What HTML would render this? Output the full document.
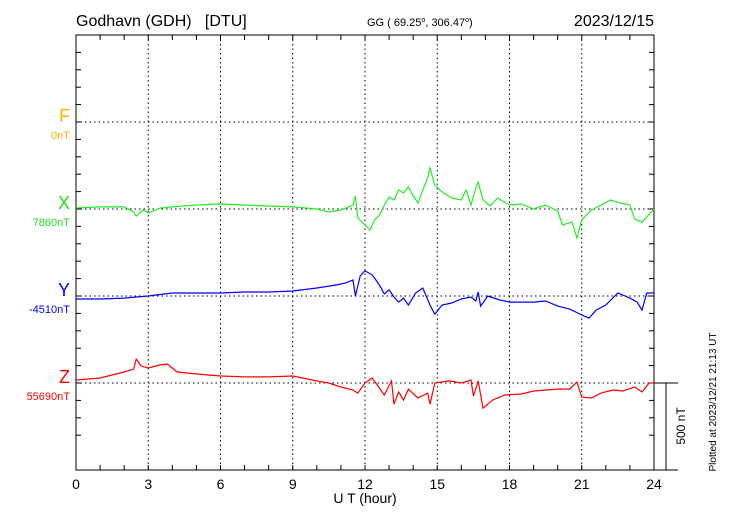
<!DOCTYPE html>
<html><head><meta charset="utf-8"><style>
body{margin:0;background:#fff;}
svg{display:block;font-family:"Liberation Sans",sans-serif;}
</style></head><body>
<svg id="chart" width="730" height="520" viewBox="0 0 730 520" xmlns="http://www.w3.org/2000/svg">
<text x="76" y="26" font-size="16" style="white-space:pre">Godhavn (GDH)   [DTU]</text>
<text x="367" y="26" font-size="11">GG ( 69.25<tspan dy="-4" font-size="7">o</tspan><tspan dy="4">, 306.47</tspan><tspan dy="-4" font-size="7">o</tspan><tspan dy="4">)</tspan></text>
<text x="654" y="26" font-size="16" text-anchor="end">2023/12/15</text>
<rect x="76" y="35" width="578" height="435" fill="none" stroke="#000" stroke-width="1"/>
<g id="grid"></g>
<g id="ticks"></g>
<g id="series"></g>
<text x="70" y="122" font-size="18" fill="#ffb000" text-anchor="end">F</text>
<text x="70" y="139" font-size="11" fill="#ffb000" text-anchor="end">0nT</text>
<text x="70" y="209" font-size="18" fill="#22dd22" text-anchor="end">X</text>
<text x="70" y="226" font-size="11" fill="#22dd22" text-anchor="end">7860nT</text>
<text x="70" y="296" font-size="18" fill="#0000ff" text-anchor="end">Y</text>
<text x="70" y="313" font-size="11" fill="#0000ff" text-anchor="end">-4510nT</text>
<text x="70" y="383" font-size="18" fill="#ff0000" text-anchor="end">Z</text>
<text x="70" y="400" font-size="11" fill="#ff0000" text-anchor="end">55690nT</text>
<text x="365" y="503" font-size="14" text-anchor="middle">U T (hour)</text>
<line x1="666" y1="383" x2="666" y2="470" stroke="#000"/>
<line x1="654" y1="383" x2="678" y2="383" stroke="#000"/>
<line x1="654" y1="470" x2="678" y2="470" stroke="#000"/>
<text transform="translate(685,426) rotate(-90)" font-size="12" text-anchor="middle">500 nT</text>
<text transform="translate(716,402) rotate(-90)" font-size="10" text-anchor="middle">Plotted at 2023/12/21 21:13 UT</text>
</svg>
<script>
const xTicks=[0,3,6,9,12,15,18,21,24];
const xT=[0,1,2,2.4,2.5,2.8,3,3.5,4,5,6,7,8,9,10,10.5,11,11.5,11.6,11.7,12,12.2,12.4,12.6,12.8,13,13.2,13.4,13.6,13.8,14,14.2,14.4,14.6,14.7,14.9,15.2,15.6,16,16.2,16.4,16.6,16.7,16.9,17.2,17.5,18,18.5,19,19.5,20,20.2,20.6,20.8,21,21.4,21.8,22.2,22.6,23,23.2,23.5,24];
const xV=[6,12,12,-17,-40,-6,-23,6,12,23,29,23,17,12,0,-17,-6,23,75,-52,-92,-121,-63,-35,23,69,52,109,92,127,75,35,109,178,236,138,98,63,52,109,23,121,155,52,17,63,23,29,0,23,-12,-92,-75,-167,-63,-6,23,52,35,23,-58,-75,0];
const yT=[0,1,2,2.5,3,4,5,6,7,8,9,10,10.8,11.2,11.5,11.6,11.8,12,12.3,12.6,12.8,13,13.2,13.4,13.6,13.8,14.1,14.4,14.7,14.9,15.2,15.6,16,16.4,16.6,16.7,16.8,17.1,17.6,18,19,19.5,20,20.5,21,21.3,21.6,22,22.5,23,23.3,23.5,23.7,24];
const yV=[-17,-17,-12,-6,0,17,17,17,23,23,29,46,63,75,92,0,115,144,121,63,12,35,-6,-35,-12,-52,17,46,-52,-104,-52,-40,-17,-6,-29,23,-58,0,-23,-35,-35,-29,-58,-75,-109,-127,-81,-52,17,-12,-35,-81,17,17];
const zT=[0,1,2,2.4,2.5,2.7,3,3.5,3.8,4.2,5,6,7,8,9,10,10.5,11,11.5,11.7,12,12.3,12.6,12.8,13.1,13.2,13.4,13.6,13.8,14.2,14.6,14.7,14.9,15.5,16,16.4,16.5,16.7,16.9,17.3,17.8,18.5,19,20,20.5,20.8,21,21.4,21.8,22.3,22.7,23.2,23.5,23.8,24];
const zV=[17,29,63,81,138,98,86,104,109,63,52,40,35,35,40,12,0,-23,-40,-58,0,29,-29,-69,12,-121,-52,-98,-35,-86,-58,-121,0,12,0,17,-75,12,-144,-98,-69,-63,-46,-35,-35,6,-81,-86,-58,-40,-46,-23,-52,0,0];
const NS="http://www.w3.org/2000/svg";
const X0=76,X1=654,PX_PER_NT=87/500;
function sx(h){return X0+h*(X1-X0)/24;}
function sy(base,v){return base-v*PX_PER_NT;}
function mk(tag,attrs,parent){const e=document.createElementNS(NS,tag);for(const k in attrs)e.setAttribute(k,attrs[k]);parent.appendChild(e);return e;}
const grid=document.getElementById('grid'),ticks=document.getElementById('ticks'),series=document.getElementById('series');
xTicks.forEach(h=>{
  if(h>0&&h<24){const l=mk('line',{x1:sx(h),y1:35,x2:sx(h),y2:470,stroke:'#000','stroke-dasharray':'1.5,3'},grid);
  
  }
  const t=mk('text',{x:sx(h),y:489,'font-size':14,'text-anchor':'middle'},ticks);t.textContent=h;
  
  
});
for(let h=0;h<=24;h++){
  const a=mk('line',{x1:sx(h),y1:35,x2:sx(h),y2:40,stroke:'#000'},ticks);
  
  
  const b=mk('line',{x1:sx(h),y1:470,x2:sx(h),y2:465,stroke:'#000'},ticks);
  
  
}
[122,209,296,383].forEach(y=>{
  const l=mk('line',{x1:76,y1:y,x2:654,y2:y,stroke:'#000','stroke-dasharray':'1.5,3'},grid);
  
  
});
for(let i=-3;i<=20;i++){const y=383-i*87/5;if(y<36||y>469)continue;
  const a=mk('line',{x1:76,y1:y,x2:81,y2:y,stroke:'#000'},ticks);
  
  
  const b=mk('line',{x1:654,y1:y,x2:649,y2:y,stroke:'#000'},ticks);
  
  
}
function draw(ts,vs,base,color,name){
  const d=ts.map((t,i)=>(i?'L':'M')+sx(t).toFixed(1)+','+sy(base,vs[i]).toFixed(1)).join('');
  const p=mk('path',{d:d,fill:'none',stroke:color,'stroke-width':1.2},series);
  
  
}
draw(xT,xV,209,'#22ee22','series-x');
draw(yT,yV,296,'#0000ff','series-y');
draw(zT,zV,383,'#ff0000','series-z');
</script>
</body></html>
